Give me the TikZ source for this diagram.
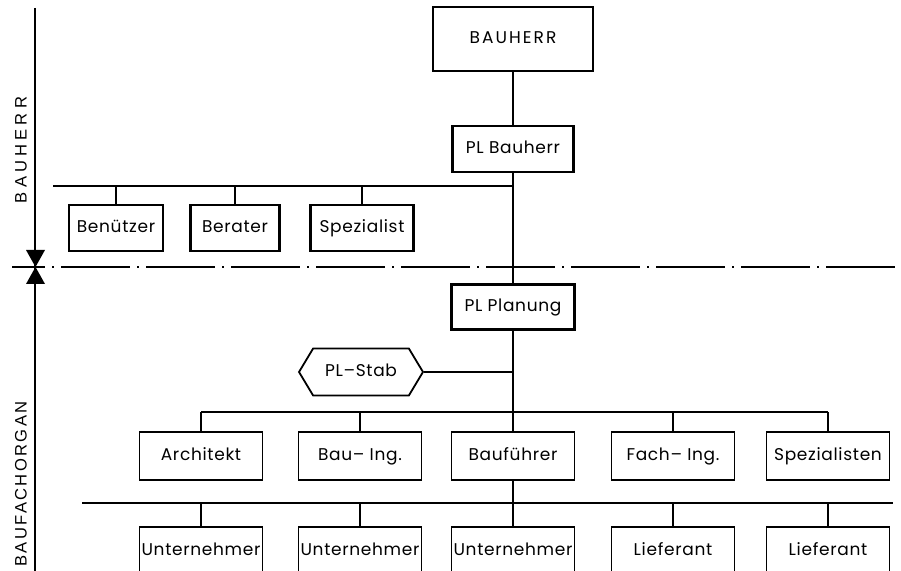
\documentclass[tikz,border=0pt]{standalone}
\usepackage{fontspec}
\setmainfont{Poppins}
\newfontfamily\kastenfont[LetterSpace=4]{Poppins}
\newfontfamily\seitenfont{Liberation Sans}
\usetikzlibrary{shapes.symbols}

\begin{document}
\begin{tikzpicture}[x=0.5pt, y=-0.5pt,
    linie/.style={line width=0.6pt},
    stark/.style={draw, line width=1.4pt, minimum height=23pt, inner sep=0pt, text height=6.5pt, text depth=2pt, font=\kastenfont\fontsize{8.5}{10}\selectfont},
    duenn/.style={draw, line width=0.75pt, minimum width=61.5pt, minimum height=24pt, inner sep=0pt, text height=6.5pt, text depth=2pt, font=\kastenfont\fontsize{8.5}{10}\selectfont},
    stab/.style={draw, line width=0.9pt, signal, signal to=west and east, signal pointer angle=118,
        minimum width=62pt, minimum height=23.5pt, inner sep=1pt, text height=6.5pt, text depth=2pt, font=\kastenfont\fontsize{8.5}{10}\selectfont},
    strichpunkt/.style={line width=0.6pt, dash pattern=on 34.5pt off 3.5pt on 1pt off 3.5pt, dash phase=18pt}]
    \useasboundingbox (0,0) rectangle (901,571);
    \clip (0,0) rectangle (901,571);

    % Achse links
    \draw[linie] (35,8) -- (35,580);
    \fill (26,250) -- (45,250) -- (35.5,267) -- cycle;
    \fill (26,284) -- (45,284) -- (35.5,267) -- cycle;
    \draw[strichpunkt] (12,267) -- (901,267);
    \node[rotate=90, font=\seitenfont\fontsize{8.3}{10}\selectfont\addfontfeature{LetterSpace=25}] (bauherrseite) at (21,150) {BAUHERR};
    \node[rotate=90, font=\seitenfont\fontsize{8.3}{10}\selectfont\addfontfeature{LetterSpace=14}] (fachseite) at (21,484) {BAUFACHORGAN};

    % Bauherr
    \node[stark, minimum width=80pt, minimum height=32pt, font=\kastenfont\fontsize{8.5}{10}\selectfont\addfontfeature{LetterSpace=12}] (bauherr) at (513,39) {BAUHERR};
    \node[stark, minimum width=60.5pt] (plbauherr) at (513,149) {PL Bauherr};
    \node[stark, minimum width=47pt] (benuetzer) at (116,228) {Benützer};
    \node[stark, minimum width=44.5pt] (berater) at (235,228) {Berater};
    \node[stark, minimum width=51.5pt] (spezialist) at (362,228) {Spezialist};
    \coordinate (bus1) at (53,186);
    \draw[linie] (bauherr) -- (plbauherr);
    \draw[linie] (bus1) -- (bus1 -| plbauherr.south);
    \draw[linie] (benuetzer.north) -- (benuetzer.north |- bus1);
    \draw[linie] (berater.north) -- (berater.north |- bus1);
    \draw[linie] (spezialist.north) -- (spezialist.north |- bus1);

    % Planung
    \node[stark, minimum width=61.5pt, minimum height=22.5pt] (plplanung) at (513,307) {PL Planung};
    \node[stab] (plstab) at (361,372) {PL–Stab};
    \draw[linie] (plbauherr) -- (plplanung);
    \draw[linie] (plstab.east) -- (plstab.east -| plplanung.south);

    % Fachorgane
    \node[duenn] (architekt) at (201,456) {Architekt};
    \node[duenn] (bauing) at (360,456) {Bau– Ing.};
    \node[duenn] (baufuehrer) at (513,456) {Bauführer};
    \node[duenn] (faching) at (673,456) {Fach– Ing.};
    \node[duenn] (spezialisten) at (828,456) {Spezialisten};
    \coordinate (bus2) at (203,412);
    \draw[linie] (plplanung) -- (baufuehrer);
    \draw[linie] (architekt.north |- bus2) -- (spezialisten.north |- bus2);
    \draw[linie] (architekt.north) -- (architekt.north |- bus2);
    \draw[linie] (bauing.north) -- (bauing.north |- bus2);
    \draw[linie] (faching.north) -- (faching.north |- bus2);
    \draw[linie] (spezialisten.north) -- (spezialisten.north |- bus2);

    % Unternehmer und Lieferanten
    \node[duenn] (unternehmera) at (201,551) {Unternehmer};
    \node[duenn] (unternehmerb) at (360,551) {Unternehmer};
    \node[duenn] (unternehmerc) at (513,551) {Unternehmer};
    \node[duenn] (lieferanta) at (673,551) {Lieferant};
    \node[duenn] (lieferantb) at (828,551) {Lieferant};
    \coordinate (bus3) at (82,503);
    \draw[linie] (bus3) -- (893,503);
    \draw[linie] (baufuehrer) -- (unternehmerc);
    \draw[linie] (unternehmera.north) -- (unternehmera.north |- bus3);
    \draw[linie] (unternehmerb.north) -- (unternehmerb.north |- bus3);
    \draw[linie] (lieferanta.north) -- (lieferanta.north |- bus3);
    \draw[linie] (lieferantb.north) -- (lieferantb.north |- bus3);
\end{tikzpicture}
\end{document}
